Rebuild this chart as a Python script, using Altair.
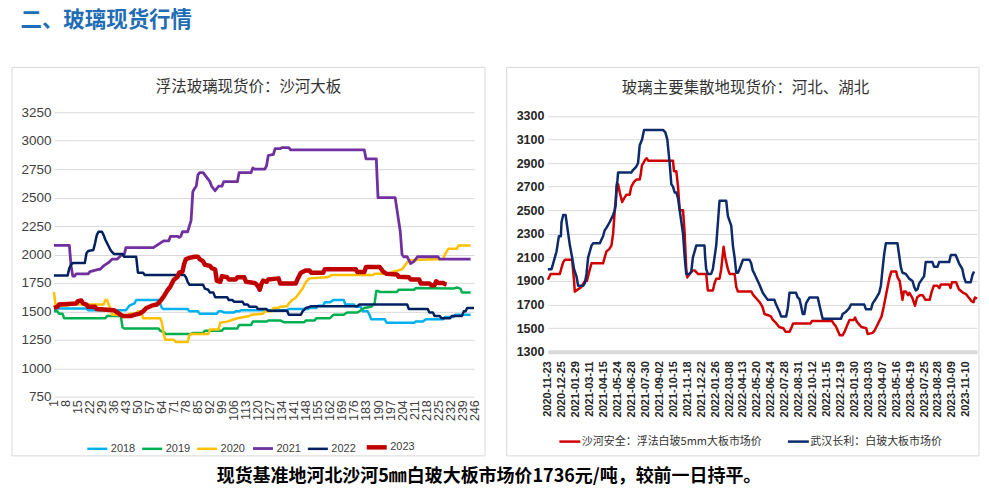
import json
import altair as alt
import pandas as pd

CJK = "Noto Sans CJK SC"
LATIN = "Liberation Sans"

# ---------------- left panel: 浮法玻璃现货价：沙河大板 ----------------
YEARS = ["2018", "2019", "2020", "2021", "2022", "2023"]
COLORS_L = ["#00B0F0", "#00B050", "#FFC000", "#7030A0", "#002060", "#C00000"]
WIDTHS_L = [2.5, 2.5, 2.5, 2.8, 2.5, 4.5]
LEFT_XTICKS = list(range(1, 247, 7))
LEFT_YTICKS = list(range(750, 3251, 250))

S2018 = [(1, 1525), (20, 1525), (21, 1510), (43, 1510), (45, 1550), (48, 1570), (49, 1600), (62, 1600),
         (64, 1530), (65, 1520), (79, 1520), (80, 1500), (85, 1500), (86, 1480), (96, 1480), (97, 1500),
         (99, 1500), (100, 1490), (106, 1490), (107, 1500), (109, 1500), (110, 1510), (137, 1510),
         (138, 1520), (149, 1520), (150, 1530), (154, 1530), (155, 1550), (158, 1550), (159, 1580),
         (162, 1580), (164, 1600), (170, 1600), (171, 1560), (176, 1560), (177, 1540), (180, 1540),
         (181, 1500), (184, 1500), (185, 1470), (186, 1430), (194, 1430), (195, 1400), (211, 1400),
         (212, 1410), (216, 1410), (218, 1430), (228, 1430), (229, 1450), (234, 1450), (235, 1470),
         (244, 1470)]
S2019 = [(1, 1500), (3, 1500), (4, 1480), (6, 1480), (7, 1440), (31, 1440), (32, 1460), (40, 1460),
         (41, 1360), (42, 1350), (62, 1350), (63, 1330), (65, 1320), (66, 1300), (81, 1300), (82, 1310),
         (88, 1310), (89, 1330), (99, 1330), (100, 1350), (108, 1350), (109, 1380), (116, 1380),
         (117, 1410), (125, 1410), (126, 1420), (133, 1420), (135, 1405), (147, 1405), (148, 1420),
         (153, 1420), (154, 1440), (162, 1440), (164, 1470), (170, 1470), (172, 1490), (178, 1490),
         (180, 1510), (182, 1530), (186, 1540), (188, 1570), (189, 1680), (190, 1680), (191, 1670),
         (201, 1670), (202, 1690), (211, 1690), (212, 1705), (234, 1700), (236, 1710), (238, 1700),
         (239, 1665), (244, 1665)]
S2020 = [(1, 1670), (2, 1550), (9, 1550), (10, 1570), (14, 1570), (15, 1560), (30, 1560), (31, 1600),
         (32, 1600), (34, 1520), (35, 1470), (41, 1470), (42, 1450), (44, 1450), (45, 1480), (49, 1480),
         (50, 1500), (52, 1500), (53, 1440), (63, 1440), (64, 1400), (65, 1300), (66, 1250), (71, 1250),
         (72, 1230), (79, 1230), (80, 1290), (81, 1300), (91, 1300), (92, 1340), (97, 1340), (98, 1400),
         (102, 1410), (104, 1420), (108, 1440), (115, 1460), (116, 1470), (123, 1480), (124, 1500),
         (128, 1500), (129, 1530), (132, 1530), (133, 1540), (137, 1545), (138, 1570), (140, 1600),
         (142, 1620), (144, 1660), (146, 1700), (148, 1760), (150, 1790), (160, 1800), (162, 1810),
         (163, 1820), (187, 1820), (188, 1830), (197, 1830), (199, 1850), (202, 1860), (204, 1870),
         (206, 1910), (208, 1950), (228, 1960), (229, 2000), (231, 2050), (236, 2050), (237, 2080),
         (244, 2080)]
S2021 = [(1, 2080), (10, 2080), (11, 1900), (12, 1810), (13, 1810), (14, 1830), (21, 1830), (22, 1850),
         (27, 1870), (28, 1870), (30, 1900), (33, 1930), (35, 1960), (38, 1960), (40, 1990), (42, 2000),
         (43, 2060), (59, 2060), (61, 2080), (63, 2100), (65, 2120), (68, 2120), (69, 2160), (73, 2160),
         (74, 2150), (75, 2160), (76, 2200), (79, 2200), (80, 2250), (81, 2300), (82, 2550), (83, 2580),
         (84, 2600), (85, 2700), (86, 2720), (88, 2720), (89, 2700), (90, 2680), (91, 2660), (92, 2640),
         (93, 2600), (94, 2580), (95, 2560), (96, 2580), (97, 2600), (99, 2600), (100, 2640), (108, 2640),
         (109, 2720), (116, 2720), (117, 2760), (118, 2750), (124, 2750), (125, 2780), (126, 2870),
         (129, 2880), (130, 2930), (133, 2930), (134, 2940), (138, 2940), (139, 2920), (182, 2920),
         (183, 2840), (189, 2840), (190, 2500), (200, 2500), (202, 2300), (203, 2200), (204, 2000),
         (205, 1980), (207, 1980), (208, 1950), (209, 1920), (211, 1940), (212, 1960), (213, 1980),
         (225, 1980), (226, 1960), (244, 1960)]
S2022 = [(1, 1815), (9, 1815), (10, 1880), (11, 1910), (12, 1925), (19, 1925), (20, 2010), (21, 2030),
         (24, 2040), (25, 2100), (26, 2170), (27, 2200), (29, 2200), (30, 2170), (31, 2130), (32, 2100),
         (33, 2070), (34, 2040), (35, 2020), (36, 2005), (41, 2005), (42, 1980), (49, 1980), (50, 1840),
         (53, 1840), (54, 1820), (77, 1820), (78, 1800), (79, 1760), (80, 1735), (88, 1735), (89, 1700),
         (91, 1690), (92, 1665), (94, 1665), (95, 1625), (102, 1625), (103, 1600), (105, 1600),
         (106, 1585), (111, 1585), (112, 1560), (114, 1560), (115, 1540), (119, 1540), (120, 1520),
         (125, 1520), (126, 1505), (137, 1505), (138, 1470), (145, 1470), (146, 1500), (148, 1530),
         (150, 1540), (151, 1545), (178, 1545), (179, 1560), (207, 1560), (208, 1520), (219, 1520),
         (220, 1490), (222, 1490), (223, 1460), (226, 1460), (227, 1440), (232, 1440), (233, 1460),
         (239, 1460), (240, 1500), (241, 1500), (242, 1530), (246, 1530)]
S2023 = [(1, 1530), (3, 1540), (4, 1560), (14, 1570), (15, 1590), (17, 1595), (18, 1570), (20, 1560),
         (21, 1540), (25, 1540), (26, 1520), (36, 1510), (37, 1500), (39, 1480), (41, 1460), (46, 1460),
         (48, 1470), (51, 1480), (53, 1500), (55, 1530), (58, 1550), (61, 1560), (63, 1590), (65, 1630),
         (67, 1680), (69, 1720), (71, 1780), (73, 1800), (74, 1840), (76, 1850), (77, 1920), (78, 1960),
         (80, 1970), (83, 1980), (85, 1980), (86, 1960), (88, 1940), (89, 1910), (92, 1900), (93, 1880),
         (95, 1870), (96, 1770), (98, 1760), (99, 1810), (102, 1800), (103, 1780), (107, 1780),
         (108, 1800), (112, 1800), (113, 1760), (118, 1750), (119, 1740), (120, 1720), (121, 1690),
         (122, 1740), (123, 1770), (125, 1760), (126, 1780), (132, 1790), (133, 1745), (142, 1745),
         (143, 1780), (145, 1840), (148, 1860), (150, 1860), (151, 1840), (158, 1840), (159, 1870),
         (177, 1870), (178, 1845), (182, 1845), (183, 1890), (191, 1890), (193, 1850), (195, 1830),
         (201, 1825), (202, 1805), (208, 1800), (209, 1780), (214, 1780), (215, 1745), (220, 1745),
         (221, 1730), (223, 1730), (224, 1765), (225, 1750), (228, 1750), (229, 1740), (230, 1736)]
SERIES_L = [S2018, S2019, S2020, S2021, S2022, S2023]

# ---------------- right panel: 玻璃主要集散地现货价：河北、湖北 ----------------
RIGHT_NAMES = ["沙河安全：浮法白玻5mm大板市场价", "武汉长利：白玻大板市场价"]
COLORS_R = ["#D00000", "#0D2B6B"]
DATES = ["2020-11-23", "2020-12-25", "2021-01-29", "2021-03-11", "2021-04-15", "2021-05-24",
         "2021-06-28", "2021-07-30", "2021-09-02", "2021-10-15", "2021-11-18", "2021-12-22",
         "2022-01-26", "2022-03-08", "2022-04-13", "2022-05-20", "2022-06-24", "2022-07-28",
         "2022-08-31", "2022-10-12", "2022-11-15", "2022-12-19", "2023-01-30", "2023-03-03",
         "2023-04-07", "2023-05-16", "2023-06-19", "2023-07-25", "2023-08-28", "2023-10-09",
         "2023-11-10"]
RIGHT_YTICKS = list(range(1300, 3301, 200))

# x = position measured in label intervals (label i sits at i)
SHAHE = [(0, 1910), (0.2, 1960), (0.86, 1960), (0.95, 2000), (1.1, 2060), (1.22, 2080), (1.74, 2080),
         (1.8, 2000), (1.88, 1900), (1.93, 1810), (2.17, 1830), (2.41, 1850), (2.65, 1900), (2.8, 1900),
         (2.9, 1950), (3.13, 2050), (3.96, 2050), (4.08, 2100), (4.2, 2150), (4.4, 2170), (4.56, 2200),
         (4.68, 2300), (4.8, 2500), (4.92, 2650), (5.04, 2720), (5.16, 2650), (5.33, 2570), (5.47, 2600),
         (5.63, 2630), (5.87, 2630), (5.99, 2700), (6.18, 2740), (6.35, 2760), (6.59, 2760), (6.66, 2800),
         (6.75, 2880), (6.85, 2900), (7.0, 2930), (7.1, 2940), (7.2, 2920), (8.98, 2920), (9.05, 2830),
         (9.22, 2830), (9.34, 2700), (9.46, 2500), (9.7, 2500), (9.82, 2300), (9.93, 2000), (10.0, 1930),
         (10.17, 1960), (10.41, 1990), (10.53, 1990), (10.77, 1960), (11.36, 1960), (11.48, 1820),
         (11.84, 1820), (11.96, 1880), (12.08, 1920), (12.32, 1920), (12.44, 2000), (12.61, 2190),
         (12.73, 2100), (12.92, 2000), (13.04, 1960), (13.4, 1960), (13.52, 1850), (13.64, 1810),
         (14.6, 1810), (14.75, 1780), (15.2, 1720), (15.4, 1680), (15.55, 1620), (15.8, 1610),
         (16.0, 1600), (16.15, 1570), (16.4, 1540), (16.6, 1510), (16.9, 1500), (17.05, 1470),
         (17.35, 1470), (17.5, 1510), (17.6, 1540), (18.85, 1540), (18.95, 1560), (20.4, 1560),
         (20.5, 1540), (20.65, 1520), (20.8, 1480), (20.95, 1440), (21.15, 1440), (21.3, 1470),
         (21.5, 1530), (21.65, 1570), (21.95, 1570), (22.05, 1590), (22.15, 1560), (22.35, 1530),
         (22.5, 1510), (22.85, 1500), (22.95, 1450), (23.3, 1460), (23.45, 1480), (23.7, 1540),
         (23.95, 1600), (24.1, 1680), (24.3, 1800), (24.5, 1920), (24.65, 1980), (25.0, 1980),
         (25.1, 1930), (25.25, 1900), (25.45, 1740), (25.55, 1810), (25.7, 1810), (25.85, 1780),
         (25.95, 1800), (26.15, 1760), (26.35, 1690), (26.5, 1760), (26.7, 1780), (26.9, 1780),
         (27.1, 1740), (27.4, 1740), (27.55, 1810), (27.7, 1860), (27.95, 1860), (28.1, 1840),
         (28.2, 1870), (28.8, 1870), (28.9, 1840), (29.0, 1890), (29.3, 1890), (29.5, 1830),
         (29.8, 1800), (30.0, 1790), (30.2, 1760), (30.4, 1730), (30.55, 1720), (30.65, 1760),
         (30.8, 1750)]
WUHAN = [(0, 2000), (0.26, 2000), (0.38, 2050), (0.62, 2150), (0.79, 2280), (0.93, 2280), (0.98, 2400),
         (1.1, 2460), (1.27, 2460), (1.34, 2400), (1.46, 2300), (1.58, 2200), (1.74, 2100), (1.88, 2000),
         (2.05, 1940), (2.17, 1860), (2.53, 1860), (2.65, 1880), (2.77, 1960), (2.89, 2100), (3.01, 2150),
         (3.13, 2200), (3.25, 2220), (3.73, 2220), (3.84, 2250), (3.96, 2280), (4.08, 2330), (4.2, 2350),
         (4.44, 2400), (4.56, 2430), (4.68, 2460), (4.8, 2500), (4.87, 2550), (4.92, 2700), (4.99, 2750),
         (5.04, 2820), (5.99, 2820), (6.11, 2840), (6.35, 2870), (6.47, 2900), (6.59, 3050), (6.76, 3100),
         (6.9, 3180), (8.26, 3180), (8.43, 3160), (8.57, 3100), (8.74, 2900), (8.86, 2720), (8.98, 2700),
         (9.1, 2650), (9.22, 2650), (9.34, 2600), (9.46, 2500), (9.58, 2400), (9.7, 2300), (9.82, 2100),
         (9.93, 1960), (10.17, 1960), (10.29, 1980), (10.41, 2100), (10.65, 2200), (11.24, 2200),
         (11.29, 2100), (11.36, 2000), (11.48, 1960), (11.72, 1960), (11.84, 2000), (11.96, 2100),
         (12.08, 2200), (12.32, 2580), (12.8, 2580), (12.92, 2450), (13.16, 2370), (13.28, 2200),
         (13.4, 2100), (13.52, 1970), (13.64, 1970), (13.75, 2000), (14.0, 2080), (14.47, 2080),
         (14.59, 2050), (14.7, 1990), (14.83, 1960), (15.18, 1870), (15.42, 1800), (15.78, 1740),
         (16.26, 1740), (16.38, 1700), (16.62, 1640), (16.74, 1600), (17.1, 1600), (17.22, 1670),
         (17.34, 1800), (17.81, 1800), (17.93, 1760), (18.05, 1750), (18.17, 1690), (18.29, 1620),
         (18.41, 1620), (18.53, 1710), (18.77, 1760), (19.37, 1760), (19.48, 1700), (19.72, 1580),
         (21.04, 1580), (21.16, 1620), (21.4, 1640), (21.63, 1670), (21.75, 1700), (22.71, 1700),
         (22.83, 1660), (23.19, 1660), (23.31, 1710), (23.54, 1750), (23.78, 1800), (23.9, 1860),
         (24.02, 2000), (24.14, 2130), (24.26, 2220), (25.09, 2220), (25.21, 2120), (25.33, 2020),
         (25.45, 1970), (25.69, 1960), (25.93, 1920), (26.17, 1900), (26.29, 1850), (26.41, 1820),
         (26.53, 1830), (26.65, 1880), (26.88, 1920), (27.0, 1940), (27.12, 2060), (27.6, 2060),
         (27.72, 2020), (27.96, 2020), (28.08, 2060), (28.8, 2060), (28.92, 2120), (29.27, 2120),
         (29.51, 2050), (29.75, 2000), (29.87, 1930), (29.99, 1890), (30.35, 1890), (30.47, 1950),
         (30.59, 1980)]
SERIES_R = [SHAHE, WUHAN]

HEADER = "二、玻璃现货行情"
TITLE_L = "浮法玻璃现货价：沙河大板"
TITLE_R = "玻璃主要集散地现货价：河北、湖北"
FOOTER = "现货基准地河北沙河5㎜白玻大板市场价1736元/吨，较前一日持平。"

df_left = pd.DataFrame([{"year": y, "day": d, "price": p}
                        for y, s in zip(YEARS, SERIES_L) for d, p in s])
df_right = pd.DataFrame([{"series": n, "pos": x, "price": p}
                         for n, s in zip(RIGHT_NAMES, SERIES_R) for x, p in s])

one = alt.Data(values=[{"k": 1}])


def txt(text, x, y, size, color, weight="normal", align="center"):
    return alt.Chart(one).mark_text(
        text=text, font=CJK, fontSize=size, color=color, fontWeight=weight,
        align=align, baseline="middle").encode(x=alt.value(x), y=alt.value(y))


def box(x1, x2, y1, y2, stroke, fill_opacity=0.0):
    return alt.Chart(one).mark_rect(
        fill="white", fillOpacity=fill_opacity, stroke=stroke, strokeWidth=1).encode(
        x=alt.value(x1), x2=alt.value(x2), y=alt.value(y1), y2=alt.value(y2))


# ---------------- left chart ----------------
leg_left = alt.Legend(title=None, orient="none", legendX=31, legendY=323, direction="horizontal",
                      columns=6, symbolType="stroke", symbolSize=400, labelFontSize=11,
                      labelFont=LATIN, labelColor="#404040", columnPadding=1, labelOffset=1,
                      padding=0)

left_lines = alt.Chart(df_left).mark_line(strokeJoin="round").encode(
    x=alt.X("day:Q", title=None, scale=alt.Scale(domain=[1, 246], nice=False, zero=False),
            axis=alt.Axis(values=LEFT_XTICKS, format="d", labelAngle=270, labelAlign="right",
                          labelBaseline="middle", labelPadding=3, grid=False, ticks=False,
                          domain=False, labelFontSize=12.5, labelColor="#404040", labelFont=LATIN,
                          labelOverlap=False, labelFlush=False)),
    y=alt.Y("price:Q", title=None, scale=alt.Scale(domain=[750, 3250], nice=False, zero=False),
            axis=alt.Axis(values=LEFT_YTICKS, format="d", grid=True, gridColor="#D9D9D9",
                          gridWidth=1, ticks=False, domain=False, labelPadding=3,
                          labelFontSize=13.5, labelColor="#404040", labelFont=LATIN,
                          labelOverlap=False, labelFlush=False)),
    color=alt.Color("year:N", scale=alt.Scale(domain=YEARS, range=COLORS_L), legend=leg_left),
    strokeWidth=alt.StrokeWidth("year:N",
                                scale=alt.Scale(type="ordinal", domain=YEARS, range=WIDTHS_L),
                                legend=leg_left),
)

left = alt.layer(
    box(-45, 928, -102.7, 373.3, "transparent"),
    box(-42, 432, -45, 344.3, "#D9D9D9"),
    txt(HEADER, -33.5, -91.2, 21.5, "#1F6DB5", weight="bold", align="left"),
    txt(TITLE_L, 195, -25.2, 15.5, "#333333"),
    txt(FOOTER, 436, 365.3, 18, "#000000", weight="bold"),
    left_lines,
).properties(width=421, height=285)

# ---------------- right chart ----------------
leg_right = alt.Legend(title=None, orient="none", legendX=10, legendY=318, direction="horizontal",
                       columns=2, symbolType="stroke", symbolSize=441, symbolStrokeWidth=2.5,
                       labelFontSize=11, labelFont=CJK, labelColor="#333333", columnPadding=20,
                       labelOffset=0, labelLimit=400, padding=0)

label_expr = json.dumps(DATES) + "[datum.value]"

right_lines = alt.Chart(df_right).mark_line(strokeWidth=2.5, strokeJoin="round").encode(
    x=alt.X("pos:Q", title=None, scale=alt.Scale(domain=[0, 30.8], nice=False, zero=False),
            axis=alt.Axis(values=list(range(len(DATES))), labelExpr=label_expr, labelAngle=270,
                          labelAlign="right", labelBaseline="middle", labelPadding=9, ticks=False,
                          grid=False, domain=True, domainColor="#D9D9D9", domainWidth=4,
                          labelFontSize=11, labelFontWeight="bold", labelColor="#262626",
                          labelFont=LATIN, labelOverlap=False, labelFlush=False)),
    y=alt.Y("price:Q", title=None, scale=alt.Scale(domain=[1300, 3330], nice=False, zero=False),
            axis=alt.Axis(values=RIGHT_YTICKS, format="d", grid=True, gridColor="#D9D9D9",
                          gridWidth=1, ticks=False, domain=False, labelPadding=4,
                          labelFontSize=12.5, labelFontWeight="bold", labelColor="#262626",
                          labelFont=LATIN, labelOverlap=False, labelFlush=False)),
    color=alt.Color("series:N", scale=alt.Scale(domain=RIGHT_NAMES, range=COLORS_R),
                    legend=leg_right),
)

right = alt.layer(
    box(-41.3, 432, -45, 344.3, "#D9D9D9"),
    txt(TITLE_R, 198, -24.2, 15.5, "#333333"),
    right_lines,
).properties(width=430, height=240)

chart = alt.hconcat(left, right, spacing=74, bounds="flush").resolve_scale(
    x="independent", y="independent", color="independent", strokeWidth="independent"
).resolve_legend(color="independent", strokeWidth="independent").properties(
    padding=0, background="white"
).configure_view(strokeWidth=0)

chart.save("out.html", embed_options={"renderer": "svg", "actions": False})
